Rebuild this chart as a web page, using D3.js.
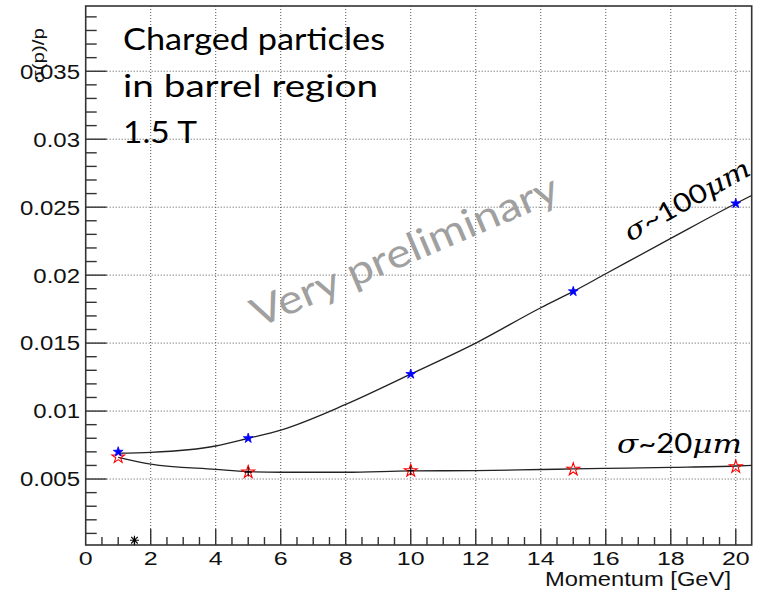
<!DOCTYPE html>
<html>
<head>
<meta charset="utf-8">
<script src="https://cdn.jsdelivr.net/npm/d3@7"></script>
<style>
  html, body { margin: 0; padding: 0; background: #fff; }
  svg { display: block; }
</style>
</head>
<body>
<svg id="chart" width="763" height="592"></svg>
<script>
// Momentum resolution vs momentum, barrel region, 1.5 T
const momenta = [1, 5, 10, 15, 20];
const res100um = [0.0070, 0.0080, 0.01272, 0.0188, 0.02527];
const res20um = [0.00662, 0.00551, 0.00561, 0.00571, 0.0059];

// fitted curves, sampled along the momentum axis
const fitX = [1, 2, 4, 5, 6, 8, 10, 12, 14, 15, 16, 18, 20, 20.5];
const fit100um = [0.0069, 0.00696, 0.00743, 0.0080, 0.0086, 0.01049, 0.01272, 0.0150, 0.0176, 0.0188, 0.0201, 0.0227, 0.02527, 0.02588];
const fit20um = [0.0066, 0.0061, 0.00571, 0.00554, 0.0055, 0.0055, 0.0056, 0.00562, 0.0057, 0.00574, 0.00578, 0.00586, 0.00596, 0.006];

// extra marker near the origin and points carrying small error crosses
const strayPoint = [{ p: 1.5, r: 0.0005 }];
const crossedX = [5, 10];
const crossedY = [0.00551, 0.00561];

const xTicks = [0, 2, 4, 6, 8, 10, 12, 14, 16, 18, 20];
const yTicks = [0.005, 0.01, 0.015, 0.02, 0.025, 0.03, 0.035];
const yTickLabels = ["0.005", "0.01", "0.015", "0.02", "0.025", "0.03", "0.035"];

const svg = d3.select("#chart");
const L = 85.7, R = 751.7, T = 6, B = 545;

const x = d3.scaleLinear().domain([0, 20.49]).range([L, R]);
const y = d3.scaleLinear().domain([0.000147, 0.0398]).range([B, T]);

// grid
const grid = svg.append("g").attr("stroke", "#555").attr("stroke-width", 1)
  .attr("stroke-dasharray", "1,2");
xTicks.filter(d => d > 0).forEach(d => {
  grid.append("line").attr("x1", x(d)).attr("x2", x(d)).attr("y1", T).attr("y2", B);
});
yTicks.forEach(d => {
  grid.append("line").attr("x1", L).attr("x2", R).attr("y1", y(d)).attr("y2", y(d));
});

// tick marks
const tk = svg.append("g").attr("stroke", "#333").attr("stroke-width", 1.4);
d3.range(1, 42).map(i => i * 0.5).forEach(d => {
  if (x(d) >= R - 1) return;
  const major = Math.abs(d / 2 - Math.round(d / 2)) < 1e-9;
  tk.append("line").attr("x1", x(d)).attr("x2", x(d)).attr("y1", B).attr("y2", B - (major ? 16 : 8));
});
d3.range(1, 40).map(i => i * 0.001).forEach(d => {
  const major = yTicks.some(t => Math.abs(t - d) < 1e-9);
  tk.append("line").attr("x1", L).attr("x2", L + (major ? 21 : 11)).attr("y1", y(d)).attr("y2", y(d));
});

// frame
svg.append("rect").attr("x", L).attr("y", T).attr("width", R - L).attr("height", B - T)
  .attr("fill", "none").attr("stroke", "#333").attr("stroke-width", 1.6);

// tick labels
const rootFont = "'Liberation Sans', Arial, Helvetica, sans-serif";
xTicks.forEach(d => {
  svg.append("text").attr("transform", `translate(${x(d)},564.5) scale(1.35,1)`)
    .attr("text-anchor", "middle").attr("font-family", rootFont).attr("font-size", 18.5)
    .attr("fill", "#111").text(d);
});
yTicks.forEach((d, i) => {
  svg.append("text").attr("transform", `translate(80,${y(d)}) scale(1.17,1)`)
    .attr("text-anchor", "end").attr("dy", "0.36em").attr("font-family", rootFont)
    .attr("font-size", 20.5).attr("fill", "#111").text(yTickLabels[i]);
});

// axis titles
svg.append("text").attr("x", 731).attr("y", 586).attr("text-anchor", "end")
  .attr("font-family", rootFont).attr("font-size", 20).attr("fill", "#111")
  .attr("textLength", 186).attr("lengthAdjust", "spacingAndGlyphs").text("Momentum [GeV]");
svg.append("text").attr("transform", "translate(44,28) rotate(-90)").attr("text-anchor", "end")
  .attr("font-family", rootFont).attr("font-size", 17).attr("fill", "#111")
  .attr("textLength", 55).attr("lengthAdjust", "spacingAndGlyphs").text("σ(p)/p");

// fit curves
svg.append("clipPath").attr("id", "plotClip").append("rect")
  .attr("x", L).attr("y", T).attr("width", R - L).attr("height", B - T);
const line = d3.line().x(d => x(d[0])).y(d => y(d[1])).curve(d3.curveMonotoneX);
[fit100um, fit20um].forEach(vals => {
  svg.append("path").attr("clip-path", "url(#plotClip)")
    .attr("d", line(fitX.map((p, i) => [p, vals[i]])))
    .attr("fill", "none").attr("stroke", "#222").attr("stroke-width", 1.3);
});

// markers
const star = d3.symbol().type(d3.symbolStar);
momenta.forEach((p, i) => {
  svg.append("path").attr("d", star.size(50)()).attr("transform", `translate(${x(p)},${y(res20um[i])})`)
    .attr("fill", "none").attr("stroke", "#ff0000").attr("stroke-width", 1.1);
});
crossedX.forEach((p, i) => {
  const cx = x(p), cy = y(crossedY[i]);
  svg.append("path").attr("d", `M${cx - 3.5},${cy}H${cx + 3.5}M${cx},${cy - 4.5}V${cy + 4.5}`)
    .attr("stroke", "#000").attr("stroke-width", 1.1);
});
momenta.forEach((p, i) => {
  svg.append("path").attr("d", star.size(30)()).attr("transform", `translate(${x(p)},${y(res100um[i])})`)
    .attr("fill", "#0000ff").attr("stroke", "#0000ff").attr("stroke-width", 0.8);
});
strayPoint.forEach(d => {
  const cx = x(d.p), cy = y(d.r);
  svg.append("path")
    .attr("d", `M${cx - 4.5},${cy}H${cx + 4.5}M${cx},${cy - 4.5}V${cy + 4.5}M${cx - 3.3},${cy - 3.3}L${cx + 3.3},${cy + 3.3}M${cx - 3.3},${cy + 3.3}L${cx + 3.3},${cy - 3.3}`)
    .attr("stroke", "#000").attr("stroke-width", 1.1);
});

// annotations
const noteFont = "Lato, 'Open Sans', sans-serif";
const notes = [["Charged particles", 50, 262], ["in barrel region", 97, 255], ["1.5 T", 143, 74]];
notes.forEach(([t, by, w]) => {
  svg.append("text").attr("x", 123).attr("y", by).attr("font-family", noteFont)
    .attr("font-size", 31).attr("fill", "#000")
    .attr("textLength", w).attr("lengthAdjust", "spacingAndGlyphs").text(t);
});

svg.append("text").attr("transform", "translate(258,328) rotate(-23)")
  .attr("font-family", noteFont).attr("font-size", 40).attr("fill", "#a0a0a0")
  .attr("textLength", 330).attr("lengthAdjust", "spacingAndGlyphs").text("Very preliminary");

function sigmaLabel(sel, digits) {
  sel.append("tspan").attr("font-family", "'DejaVu Serif', serif").attr("font-style", "italic").text("σ");
  sel.append("tspan").attr("font-family", noteFont).text("~" + digits);
  sel.append("tspan").attr("font-family", "'DejaVu Serif', serif").attr("font-style", "italic").text("μm");
}
const lab100 = svg.append("text").attr("transform", "translate(630,242) rotate(-29)")
  .attr("font-size", 26).attr("fill", "#000").attr("textLength", 140).attr("lengthAdjust", "spacingAndGlyphs");
sigmaLabel(lab100, "100");
const lab20 = svg.append("text").attr("x", 617).attr("y", 453)
  .attr("font-size", 26).attr("fill", "#000").attr("textLength", 125).attr("lengthAdjust", "spacingAndGlyphs");
sigmaLabel(lab20, "20");
</script>
</body>
</html>
